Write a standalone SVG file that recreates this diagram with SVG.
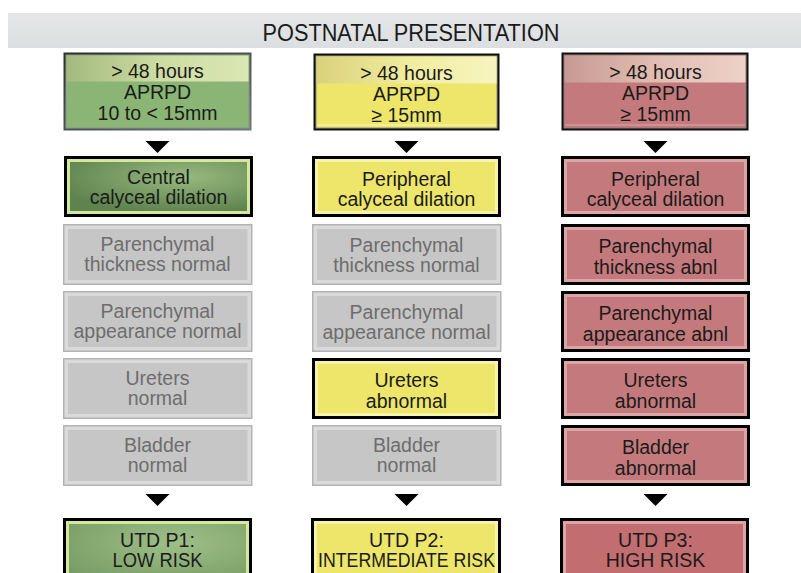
<svg xmlns="http://www.w3.org/2000/svg" width="801" height="573" viewBox="0 0 801 573">
<defs>
<linearGradient id="titleG" x1="0" y1="0" x2="0" y2="1"><stop offset="0" stop-color="#e4e6e7"/><stop offset="1" stop-color="#dcdfe1"/></linearGradient>
<linearGradient id="hdrG" x1="0" y1="0" x2="1" y2="0"><stop offset="0" stop-color="#a3b97e"/><stop offset="0.5" stop-color="#cddcA2"/><stop offset="1" stop-color="#dbe7b4"/></linearGradient>
<linearGradient id="hdrY" x1="0" y1="0" x2="1" y2="0"><stop offset="0" stop-color="#d9d17c"/><stop offset="0.5" stop-color="#f1ec9e"/><stop offset="1" stop-color="#f7f4c0"/></linearGradient>
<linearGradient id="hdrR" x1="0" y1="0" x2="1" y2="0"><stop offset="0" stop-color="#c69a92"/><stop offset="0.5" stop-color="#e2bdb2"/><stop offset="1" stop-color="#edd2c7"/></linearGradient>
<linearGradient id="bevG" x1="0" y1="0" x2="1" y2="1"><stop offset="0" stop-color="#2a2f28"/><stop offset="1" stop-color="#6f7a78"/></linearGradient>
<radialGradient id="grnA" cx="0.65" cy="0.3" r="0.75"><stop offset="0" stop-color="#97b97f"/><stop offset="1" stop-color="#5e834e"/></radialGradient>
<radialGradient id="grnB" cx="0.6" cy="0.3" r="0.8"><stop offset="0" stop-color="#9fbf88"/><stop offset="1" stop-color="#759a63"/></radialGradient>
<path id="arr" d="M-12,0 L12,0 L0,12 Z" fill="#000"/>
</defs>
<style>
text{font-family:"Liberation Sans","DejaVu Sans",Arial,sans-serif;text-anchor:middle;fill:#1b1b1b}
.t{font-size:19.5px}
.h{font-size:19.5px}
.g text{fill:#6d6d6d}
.out{stroke:#000;stroke-width:3}
.gout{fill:#dadada;stroke:#b3b3b3;stroke-width:1.5}
.gin{fill:#c6c6c6}
.gband{fill:#f7f3a8}
.yf{fill:#ede66b}
.rband{fill:#dca4a4}
.rf{fill:#c47a7c}
.gnband{fill:#d5e79a}
</style>
<rect width="801" height="573" fill="#fff"/>
<g id="title">
<rect x="8" y="13" width="793" height="35" fill="url(#titleG)"/>
<text x="411" y="41" style="font-size:23px" textLength="297" lengthAdjust="spacingAndGlyphs">POSTNATAL PRESENTATION</text>
</g>

<!-- Top boxes -->
<g id="top1">
<rect x="63.5" y="52.5" width="188" height="78" fill="url(#bevG)"/>
<rect x="66" y="55" width="183" height="73" fill="#8ab574" stroke="#8e9590" stroke-width="1"/>
<rect x="66.5" y="55.5" width="182" height="26" fill="url(#hdrG)"/>
<text class="h" x="157.5" y="78">&gt; 48 hours</text>
<text class="h" x="157.5" y="99">APRPD</text>
<text class="h" x="157.5" y="120">10 to &lt; 15mm</text>
</g>
<g id="top2">
<rect x="313.5" y="53.5" width="186" height="77" fill="#111"/>
<rect x="316" y="56" width="181" height="72" fill="#ede66b" stroke="#8a8a7a" stroke-width="1"/>
<rect x="316.5" y="56.5" width="180" height="27" fill="url(#hdrY)"/>
<line x1="317" y1="125" x2="496" y2="125" stroke="#f5f1a6" stroke-width="1.5"/>
<text class="h" x="406.5" y="80">&gt; 48 hours</text>
<text class="h" x="406.5" y="101">APRPD</text>
<text class="h" x="406.5" y="122">≥ 15mm</text>
</g>
<g id="top3">
<rect x="561.5" y="52.5" width="187" height="78" fill="#111"/>
<rect x="564" y="55" width="182" height="73" fill="#c47a7c" stroke="#8a7a7a" stroke-width="1"/>
<rect x="564.5" y="55.5" width="181" height="27" fill="url(#hdrR)"/>
<line x1="565" y1="125" x2="745" y2="125" stroke="#d69a9a" stroke-width="1.5"/>
<text class="h" x="655.5" y="79">&gt; 48 hours</text>
<text class="h" x="655.5" y="100">APRPD</text>
<text class="h" x="655.5" y="121">≥ 15mm</text>
</g>

<!-- Row 2 -->
<g id="c1r2">
<rect class="out gnband" x="65.5" y="157.5" width="186" height="58"/>
<rect x="70" y="162" width="177" height="49" fill="url(#grnA)"/>
<text class="t" x="158.5" y="184">Central</text>
<text class="t" x="158.5" y="204">calyceal dilation</text>
</g>
<g id="c2r2">
<rect class="out gband" x="313.5" y="157.5" width="186" height="58"/>
<rect class="yf" x="318" y="162" width="177" height="49"/>
<text class="t" x="406.5" y="186">Peripheral</text>
<text class="t" x="406.5" y="206">calyceal dilation</text>
</g>
<g id="c3r2">
<rect class="out rband" x="562.5" y="157.5" width="186" height="58"/>
<rect class="rf" x="567" y="162" width="177" height="49"/>
<text class="t" x="655.5" y="186">Peripheral</text>
<text class="t" x="655.5" y="206">calyceal dilation</text>
</g>

<!-- Row 3 -->
<g id="c1r3" class="g">
<rect class="gout" x="63.75" y="224.75" width="188" height="59.5"/>
<rect class="gin" x="68" y="229" width="179.5" height="51"/>
<text class="t" x="157.5" y="251">Parenchymal</text>
<text class="t" x="157.5" y="271">thickness normal</text>
</g>
<g id="c2r3" class="g">
<rect class="gout" x="312.75" y="224.75" width="188" height="59.5"/>
<rect class="gin" x="317" y="229" width="179.5" height="51"/>
<text class="t" x="406.5" y="252">Parenchymal</text>
<text class="t" x="406.5" y="272">thickness normal</text>
</g>
<g id="c3r3">
<rect class="out rband" x="562.5" y="225.5" width="186" height="58"/>
<rect class="rf" x="567" y="230" width="177" height="49"/>
<text class="t" x="655.5" y="253">Parenchymal</text>
<text class="t" x="655.5" y="274">thickness abnl</text>
</g>

<!-- Row 4 -->
<g id="c1r4" class="g">
<rect class="gout" x="63.75" y="291.75" width="188" height="59.5"/>
<rect class="gin" x="68" y="296" width="179.5" height="51"/>
<text class="t" x="157.5" y="318">Parenchymal</text>
<text class="t" x="157.5" y="338">appearance normal</text>
</g>
<g id="c2r4" class="g">
<rect class="gout" x="312.75" y="291.75" width="188" height="59.5"/>
<rect class="gin" x="317" y="296" width="179.5" height="51"/>
<text class="t" x="406.5" y="319">Parenchymal</text>
<text class="t" x="406.5" y="339">appearance normal</text>
</g>
<g id="c3r4">
<rect class="out rband" x="562.5" y="292.5" width="186" height="58"/>
<rect class="rf" x="567" y="297" width="177" height="49"/>
<text class="t" x="655.5" y="320">Parenchymal</text>
<text class="t" x="655.5" y="341">appearance abnl</text>
</g>

<!-- Row 5 -->
<g id="c1r5" class="g">
<rect class="gout" x="63.75" y="358.75" width="188" height="59.5"/>
<rect class="gin" x="68" y="363" width="179.5" height="51"/>
<text class="t" x="157.5" y="385">Ureters</text>
<text class="t" x="157.5" y="405">normal</text>
</g>
<g id="c2r5">
<rect class="out gband" x="313.5" y="359.5" width="186" height="58"/>
<rect class="yf" x="318" y="364" width="177" height="49"/>
<text class="t" x="406.5" y="387">Ureters</text>
<text class="t" x="406.5" y="408">abnormal</text>
</g>
<g id="c3r5">
<rect class="out rband" x="562.5" y="359.5" width="186" height="58"/>
<rect class="rf" x="567" y="364" width="177" height="49"/>
<text class="t" x="655.5" y="387">Ureters</text>
<text class="t" x="655.5" y="408">abnormal</text>
</g>

<!-- Row 6 -->
<g id="c1r6" class="g">
<rect class="gout" x="63.75" y="425.75" width="188" height="59.5"/>
<rect class="gin" x="68" y="430" width="179.5" height="51"/>
<text class="t" x="157.5" y="452">Bladder</text>
<text class="t" x="157.5" y="472">normal</text>
</g>
<g id="c2r6" class="g">
<rect class="gout" x="312.75" y="425.75" width="188" height="59.5"/>
<rect class="gin" x="317" y="430" width="179.5" height="51"/>
<text class="t" x="406.5" y="452">Bladder</text>
<text class="t" x="406.5" y="472">normal</text>
</g>
<g id="c3r6">
<rect class="out rband" x="562.5" y="426.5" width="186" height="58"/>
<rect class="rf" x="567" y="431" width="177" height="49"/>
<text class="t" x="655.5" y="454">Bladder</text>
<text class="t" x="655.5" y="475">abnormal</text>
</g>

<!-- Bottom -->
<g id="p1">
<rect class="out gnband" x="64.5" y="519.5" width="186" height="70"/>
<rect x="69" y="524" width="177" height="62" fill="url(#grnB)"/>
<text class="h" x="157.5" y="547">UTD P1:</text>
<text class="h" x="157.5" y="567" textLength="90" lengthAdjust="spacingAndGlyphs">LOW RISK</text>
</g>
<g id="p2">
<rect class="out gband" x="312.5" y="519.5" width="187" height="70"/>
<rect class="yf" x="317" y="524" width="178" height="62"/>
<text class="h" x="406.5" y="547">UTD P2:</text>
<text class="h" x="406.5" y="567" textLength="177" lengthAdjust="spacingAndGlyphs">INTERMEDIATE RISK</text>
</g>
<g id="p3">
<rect class="out rband" x="561.5" y="519.5" width="186" height="70"/>
<rect x="566" y="524" width="177" height="62" fill="#c26d70"/>
<text class="h" x="655.5" y="547">UTD P3:</text>
<text class="h" x="655.5" y="567">HIGH RISK</text>
</g>

<g id="connectors">
<use href="#arr" x="157.5" y="141"/>
<use href="#arr" x="406.5" y="141"/>
<use href="#arr" x="655.5" y="141"/>
<use href="#arr" x="157.5" y="494"/>
<use href="#arr" x="406.5" y="494"/>
<use href="#arr" x="655.5" y="494"/>
</g>
</svg>
